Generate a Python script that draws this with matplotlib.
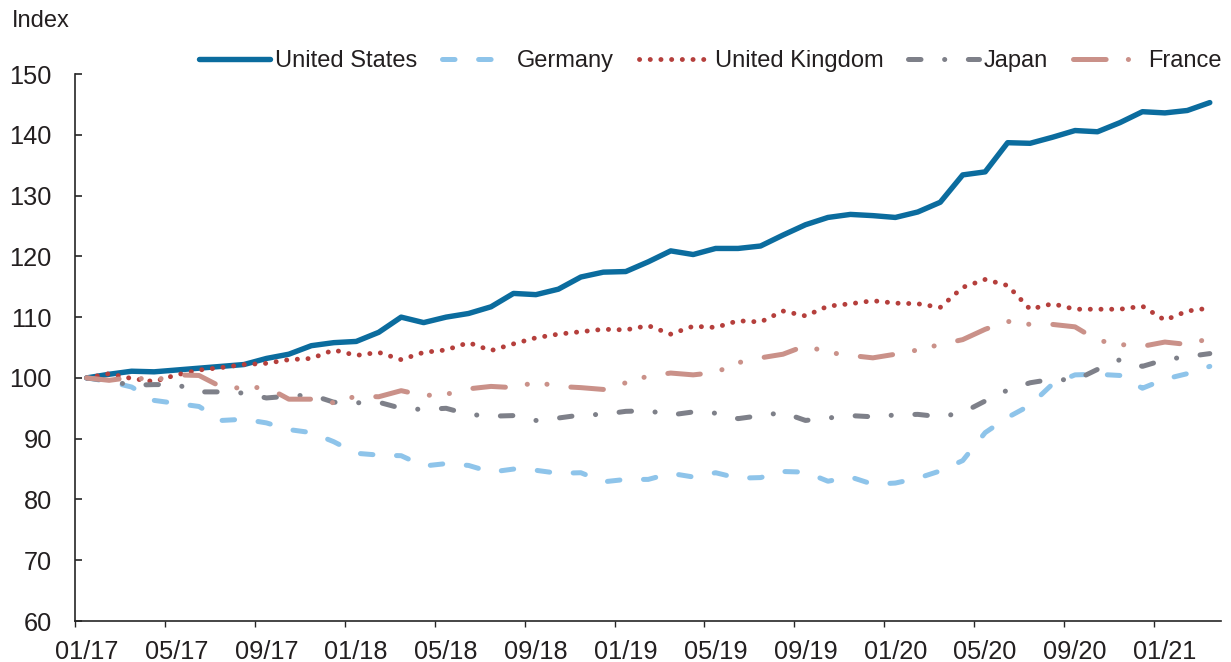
import numpy as np
import matplotlib
matplotlib.use("Agg")
import matplotlib.pyplot as plt
from matplotlib.ticker import FixedLocator, NullFormatter

# ---------- data (monthly index, 01/17 = 100) ----------
united_states = [100.0, 100.6, 101.1, 101.0, 101.3, 101.6, 101.9, 102.2, 103.2, 103.9,
                 105.3, 105.8, 106.0, 107.5, 110.0, 109.1, 110.0, 110.6, 111.7, 113.9,
                 113.7, 114.6, 116.6, 117.4, 117.5, 119.1, 120.9, 120.3, 121.3, 121.3,
                 121.7, 123.5, 125.2, 126.4, 126.9, 126.7, 126.4, 127.3, 128.9, 133.4,
                 133.9, 138.7, 138.6, 139.6, 140.7, 140.5, 142.0, 143.8, 143.6, 144.0,
                 145.3]
germany = [100.0, 99.4, 98.5, 96.3, 95.8, 95.3, 93.0, 93.2, 92.6, 91.5,
           91.0, 89.5, 87.6, 87.3, 87.2, 85.5, 85.9, 85.6, 84.5, 85.0,
           84.8, 84.3, 84.4, 82.9, 83.3, 83.3, 84.3, 83.7, 84.4, 83.5,
           83.6, 84.6, 84.5, 83.0, 83.7, 82.5, 82.7, 83.5, 84.7, 86.4,
           91.0, 93.5, 95.5, 99.0, 100.5, 100.6, 100.4, 98.3, 99.8, 100.7,
           101.9]
united_kingdom = [100.0, 100.7, 99.9, 99.4, 100.5, 101.3, 101.7, 102.2, 102.4, 103.0,
                  103.2, 104.6, 103.7, 104.2, 103.0, 104.2, 104.6, 105.8, 104.5, 105.6,
                  106.6, 107.2, 107.6, 108.0, 107.9, 108.6, 107.2, 108.5, 108.3, 109.4,
                  109.2, 111.0, 110.2, 111.8, 112.2, 112.7, 112.3, 112.2, 111.6, 114.9,
                  116.2, 115.2, 111.3, 112.2, 111.3, 111.3, 111.3, 111.8, 109.5, 111.0,
                  111.5]
japan = [100.0, 99.5, 98.8, 98.9, 98.9, 97.7, 97.7, 97.5, 96.7, 97.0,
         97.2, 96.0, 95.9, 96.0, 95.0, 94.8, 95.0, 94.0, 93.7, 93.8,
         93.0, 93.4, 93.9, 94.0, 94.5, 94.6, 93.9, 94.4, 94.2, 93.3,
         93.8, 94.3, 93.0, 93.4, 93.8, 93.6, 93.9, 94.0, 93.6, 94.3,
         96.2, 98.0, 99.2, 99.8, 99.6, 101.4, 103.0, 101.9, 103.0, 103.5,
         104.0]
france = [100.0, 99.6, 100.1, 99.6, 100.5, 100.4, 98.5, 98.3, 98.5, 96.5,
          96.5, 95.9, 97.0, 96.9, 97.9, 97.1, 97.3, 98.2, 98.6, 98.4,
          99.3, 98.6, 98.4, 98.1, 99.2, 100.3, 100.8, 100.5, 100.9, 102.5,
          103.3, 103.9, 105.3, 104.2, 103.7, 103.3, 103.9, 104.6, 105.5, 106.3,
          108.0, 109.3, 108.8, 108.8, 108.4, 106.2, 105.5, 105.2, 105.9, 105.5,
          106.5]

tick_labels = ["01/17", "05/17", "09/17", "01/18", "05/18", "09/18", "01/19",
               "05/19", "09/19", "01/20", "05/20", "09/20", "01/21"]
y_ticks = [60, 70, 80, 90, 100, 110, 120, 130, 140, 150]

# ---------- style ----------
plt.rcParams["lines.scale_dashes"] = False
TEXT = "#231F20"
FONT = ["Liberation Sans", "DejaVu Sans"]

series = [
    ("United States", united_states, dict(color="#0B6C9E", lw=3.9, ls="-")),
    ("Germany", germany, dict(color="#8EC4EA", lw=3.6, ls=(0, (9.0, 17.0)))),
    ("United Kingdom", united_kingdom, dict(color="#B53F3C", lw=3.5, ls=(0, (0.1, 7.6)))),
    ("Japan", japan, dict(color="#7E8089", lw=3.6, ls=(0, (9.0, 17.0, 0.1, 17.0)))),
    ("France", france, dict(color="#CA9189", lw=3.6,
                            ls=(0, (23.5, 16.0, 0.1, 14.4, 0.1, 17.3)))),
]

fig = plt.figure(figsize=(12.31, 6.62), dpi=100)
ax = fig.add_axes([0.0613, 0.0619, 0.9306, 0.8263])

x = np.arange(len(united_states))
for name, vals, st in series:
    ax.plot(x, vals, label=name, color=st["color"], lw=st["lw"], ls=st["ls"],
            dash_capstyle="round", solid_capstyle="round", solid_joinstyle="round")

ax.set_xlim(-0.5, 50.5)
ax.set_ylim(60, 150)

for side in ("top", "right"):
    ax.spines[side].set_visible(False)
for side in ("left", "bottom"):
    ax.spines[side].set_color("#262626")
    ax.spines[side].set_linewidth(1.2)

# labels at category centres, tick marks between categories
ax.xaxis.set_major_locator(FixedLocator(np.arange(0, 49, 4)))
ax.set_xticklabels(tick_labels)
ax.xaxis.set_minor_locator(FixedLocator(np.arange(-0.5, 48, 4)))
ax.xaxis.set_minor_formatter(NullFormatter())
ax.tick_params(axis="x", which="major", length=0, pad=13.5)
ax.tick_params(axis="x", which="minor", length=4.5, width=1.0, color="#262626", direction="out")

ax.set_yticks(y_ticks)
ax.tick_params(axis="y", length=5, width=1.2, color="#262626", direction="in", pad=17)

for lab in ax.get_xticklabels() + ax.get_yticklabels():
    lab.set_family(FONT)
    lab.set_fontsize(18.3)
    lab.set_color(TEXT)

fig.text(0.0097, 0.968, "Index", ha="left", va="center", fontsize=17,
         family=FONT, color=TEXT)

leg = ax.legend(loc="center", bbox_to_anchor=(0.577, 0.908), bbox_transform=fig.transFigure,
                ncol=5, frameon=False, handlelength=3.0, handletextpad=0.2,
                columnspacing=1.05, borderpad=0, prop={"family": FONT, "size": 17})
for t in leg.get_texts():
    t.set_color(TEXT)

fig.savefig("out.png", dpi=100)
